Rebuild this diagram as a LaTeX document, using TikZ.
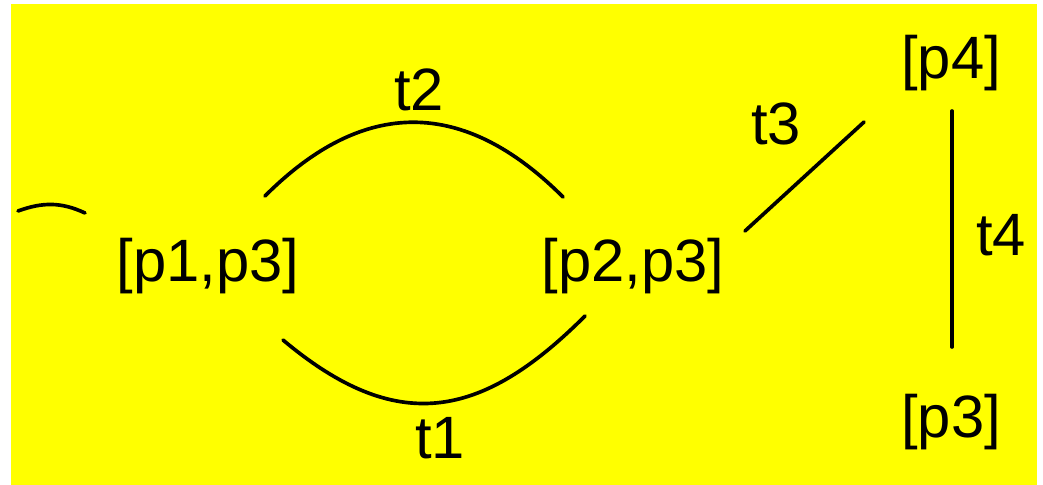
\documentclass[tikz,border=0pt]{standalone}
\usepackage{fontspec}
\setmainfont{Liberation Sans}
\usetikzlibrary{calc}
\definecolor{RGBack}{HTML}{FFFF00}
\tikzset{
  marking/.style={inner sep=0pt,text=black,font=\fontsize{42.5}{50}\selectfont},
  trlabel/.style={marking},
  arc/.style={black,line width=2.6pt,line cap=round},
}
\begin{document}
\begin{tikzpicture}[x=0.025cm,y=-0.025cm]
    \useasboundingbox (0,0) rectangle (1043,485);
    \fill[RGBack] (11,4) rectangle (1037,485);
    % markings
    \node[marking] (p13) at (208,266) {[p1,p3]};
    \node[marking] (p23) at (633,266) {[p2,p3]};
    \node[marking] (p4) at (951,63) {[p4]};
    \node[marking] (p3) at (951,422) {[p3]};
    % transitions
    \node[trlabel] (t1) at (440,438) {t1};
    \node[trlabel] (t2) at (419,90) {t2};
    \node[trlabel] (t3) at (776,124) {t3};
    \node[trlabel] (t4) at (1001,235) {t4};
    \coordinate (in0) at (18,211);
    \coordinate (in1) at (85,213);
    \draw[arc] (in0) to[out=20,in=155] (in1);
    \draw[arc] ($(p13)+(57,-70)$) to[out=45,in=135,looseness=1.2] ($(p23)+(-70,-69)$);
    \draw[arc] ($(p13)+(75,74)$) to[out=-40,in=-135,looseness=1.25] ($(p23)+(-48,50)$);
    \draw[arc] ($(p23)+(112,-35)$) -- ($(p4)+(-87,59)$);
    \draw[arc] ($(p4)+(1,48)$) -- ($(p3)+(1,-75)$);
\end{tikzpicture}
\end{document}
